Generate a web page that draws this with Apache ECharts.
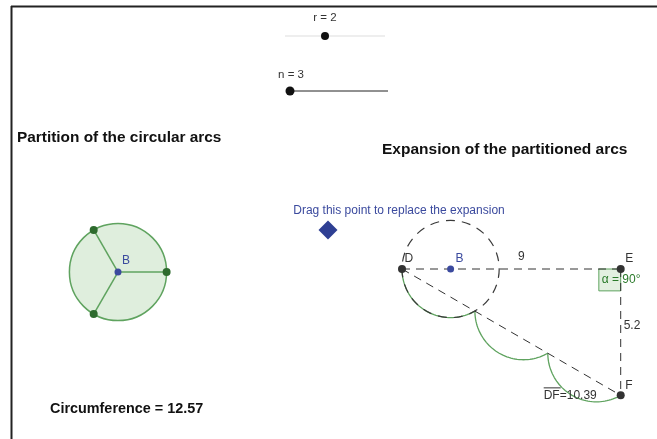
<!DOCTYPE html>
<html><head><meta charset="utf-8">
<script src="https://cdn.jsdelivr.net/npm/echarts/dist/echarts.min.js"></script>
<style>html,body{margin:0;padding:0;background:#fff}#c{width:657px;height:439px}</style>
</head><body><div id="c"></div>
<script>
// ---- values ----
const r = 2;
const n = 3;
const rRange = [0, 5];
const nRange = [3, 20];
const DE = 9;
const EF = 5.2;
const DF = 10.39;
const circumference = 12.57;
const alphaDeg = 90;
const titleLeft = 'Partition of the circular arcs';
const titleRight = 'Expansion of the partitioned arcs';
const dragText = 'Drag this point to replace the expansion';

// ---- layout ----
const S = 24.3;            // pixels per unit (equal scale on both axes)
const W = 657, H = 439;
function U(px, py) { return [px / S, -py / S]; }
const B1 = U(118, 272);    // centre of the partition circle
const D = U(402, 269);     // start of the expansion
const B2 = [D[0] + r, D[1]];
const E = [D[0] + DE, D[1]];
const F = [E[0], E[1] - EF];
const dragPt = U(328, 230);
const rSlider = [U(285, 36), U(385, 36)];
const nSlider = [U(290, 91), U(388, 91)];

const GREEN = '#5fa35f', DARK = '#333333', BLUE = '#3b4a9e';
const FONT = '"Liberation Sans", Arial, sans-serif';

// partition points
const partPts = [];
for (let k = 0; k < n; k++) {
  const t = 2 * Math.PI * k / n;
  partPts.push([B1[0] + r * Math.cos(t), B1[1] + r * Math.sin(t)]);
}
// expanded arcs along D -> F
const v = [F[0] - D[0], F[1] - D[1]];
const L = Math.hypot(v[0], v[1]);
const u = [v[0] / L, v[1] / L];
const nrm = [-u[1], u[0]];
const chord = L / n;
const h = r * Math.cos(Math.PI / n);
const arcs = [];
for (let k = 0; k < n; k++) {
  const P = [D[0] + k * chord * u[0], D[1] + k * chord * u[1]];
  const C = [P[0] + chord / 2 * u[0] + h * nrm[0], P[1] + chord / 2 * u[1] + h * nrm[1]];
  const a0 = Math.atan2(P[1] - C[1], P[0] - C[0]);
  const pts = [];
  const steps = 48;
  for (let j = 0; j <= steps; j++) {
    const a = a0 + (2 * Math.PI / n) * j / steps;
    pts.push([C[0] + r * Math.cos(a), C[1] + r * Math.sin(a)]);
  }
  arcs.push(pts);
}

function sliderPos(sl, val, range) {
  const f = (val - range[0]) / (range[1] - range[0]);
  return [sl[0][0] + f * (sl[1][0] - sl[0][0]), sl[0][1]];
}

function circleSeries(center, rad, style, z) {
  return {
    type: 'custom', z: z, silent: true,
    data: [[center[0], center[1], rad]],
    renderItem: function (params, api) {
      const c = api.coord([api.value(0), api.value(1)]);
      const rp = api.size([api.value(2), 0])[0];
      return { type: 'circle', shape: { cx: c[0], cy: c[1], r: rp }, style: style };
    }
  };
}
function lineSeries(pts, color, width, type, z) {
  return {
    type: 'line', data: pts, z: z, silent: true, showSymbol: false, symbol: 'none',
    lineStyle: { color: color, width: width, type: type }
  };
}

const series = [];
series.push(circleSeries(B1, r, { fill: '#dfeedd', stroke: GREEN, lineWidth: 1.5 }, 1));
partPts.forEach(p => series.push(lineSeries([B1, p], GREEN, 1.5, 'solid', 2)));
arcs.forEach(a => series.push(lineSeries(a, GREEN, 1.3, 'solid', 2)));
series.push(circleSeries(B2, r, { fill: 'none', stroke: '#3a3a3a', lineWidth: 1.2, lineDash: [9, 7] }, 3));
series.push(lineSeries([D, E], DARK, 1, [8, 6], 3));
series.push(lineSeries([E, F], DARK, 1, [8, 6], 3));
series.push(lineSeries([D, F], DARK, 1, [8, 6], 3));
// right angle marker at E
series.push({
  type: 'custom', z: 2, silent: true,
  data: [[E[0], E[1], 0.9]],
  renderItem: function (params, api) {
    const c = api.coord([api.value(0), api.value(1)]);
    const s = api.size([api.value(2), 0])[0];
    return { type: 'rect', shape: { x: c[0] - s, y: c[1], width: s, height: s },
      style: { fill: '#e3f0e1', stroke: GREEN, lineWidth: 1 } };
  }
});
// sliders
series.push(lineSeries(rSlider, '#dddddd', 1, 'solid', 2));
series.push(lineSeries(nSlider, '#222222', 1, 'solid', 2));

const lab = (txt, off, color) => ({ show: true, formatter: txt, position: 'right', distance: 0, offset: off, color: color });
const pts = [];
partPts.forEach(p => pts.push({ value: p, itemStyle: { color: '#2e6b2e' }, symbolSize: 8 }));
pts.push({ value: B1, itemStyle: { color: BLUE }, symbolSize: 7, label: lab('B', [0.5, -11], BLUE) });
pts.push({ value: B2, itemStyle: { color: BLUE }, symbolSize: 7, label: lab('B', [1.5, -10], BLUE) });
pts.push({ value: D, itemStyle: { color: DARK }, symbolSize: 8, label: lab('D', [-1.5, -10], DARK) });
pts.push({ value: E, itemStyle: { color: DARK }, symbolSize: 8, label: lab('E', [0.5, -10], DARK) });
pts.push({ value: F, itemStyle: { color: DARK }, symbolSize: 8, label: lab('F', [0.5, -10], DARK) });
pts.push({ value: sliderPos(rSlider, r, rRange), itemStyle: { color: '#111' }, symbolSize: 8 });
pts.push({ value: sliderPos(nSlider, n, nRange), itemStyle: { color: '#111' }, symbolSize: 9 });
pts.push({ value: dragPt, symbol: 'diamond', itemStyle: { color: '#2e3f93' }, symbolSize: [19, 19] });
series.push({
  type: 'scatter', z: 5, silent: true, data: pts,
  itemStyle: { opacity: 1 },
  label: { fontFamily: FONT, fontSize: 12 }
});

const chart = echarts.init(document.getElementById('c'));
chart.setOption({
  animation: false,
  backgroundColor: '#ffffff',
  grid: { left: 0, right: 0, top: 0, bottom: 0 },
  xAxis: { type: 'value', min: 0, max: W / S, show: false },
  yAxis: { type: 'value', min: -H / S, max: 0, show: false },
  series: series
});

function px(p) { return chart.convertToPixel({ gridIndex: 0 }, p); }
const mDE = px([(D[0] + E[0]) / 2, D[1]]);
const mEF = px([E[0], (E[1] + F[1]) / 2]);
const pE = px(E), pF = px(F);
const pR = px(sliderPos(rSlider, r, rRange));
const pN = px(sliderPos(nSlider, n, nRange));
const pB1 = px(B1);
const pDrag = px(dragPt);

function txt(text, x, y, size, weight, color, align) {
  return { type: 'text', silent: true, z: 10,
    style: { text: text, x: x, y: y, fontFamily: FONT, fontSize: size, fontWeight: weight,
      fill: color, textAlign: align || 'center', textVerticalAlign: 'middle' } };
}
const DFtext = 'DF=' + DF.toFixed(2);
chart.setOption({
  graphic: [
    { type: 'line', silent: true, shape: { x1: 11, y1: 6.5, x2: W, y2: 6.5 }, style: { stroke: '#222', lineWidth: 2 } },
    { type: 'line', silent: true, shape: { x1: 11.5, y1: 6, x2: 11.5, y2: H }, style: { stroke: '#222', lineWidth: 2 } },
    txt('r = ' + r, pR[0], 18, 11.5, 'normal', DARK),
    txt('n = ' + n, pN[0] + 1, 75, 11.5, 'normal', DARK),
    txt(titleLeft, 17, 138, 15.4, 'bold', '#111', 'left'),
    txt(titleRight, 382, 150, 15.5, 'bold', '#111', 'left'),
    txt(dragText, pDrag[0] + 71, 211, 12, 'normal', BLUE),
    txt(String(DE), mDE[0] + 10, mDE[1] - 12, 12, 'normal', DARK),
    txt(String(EF), mEF[0] + 3, mEF[1] - 6, 12, 'normal', DARK, 'left'),
    txt('\u03b1 = ' + alphaDeg + '\u00b0', pE[0] - 19, pE[1] + 11, 12, 'normal', '#2a7a2a', 'left'),
    txt(DFtext, pF[0] - 77, pF[1], 12, 'normal', DARK, 'left'),
    { type: 'line', silent: true, shape: { x1: pF[0] - 77, y1: pF[1] - 7.5, x2: pF[0] - 60, y2: pF[1] - 7.5 }, style: { stroke: DARK, lineWidth: 1 } },
    txt('Circumference = ' + circumference.toFixed(2), pB1[0] - 68, 409, 14.4, 'bold', '#111', 'left')
  ]
});
</script>
</body></html>
